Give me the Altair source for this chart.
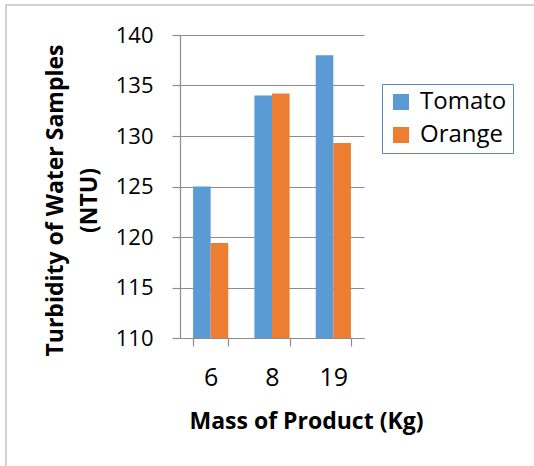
import altair as alt
import pandas as pd

# Mass of product (kg) and measured turbidity (NTU) for each sample series
masses = ["6", "8", "19"]
tomato = [125.0, 134.0, 138.0]
orange = [119.4, 134.2, 129.3]
series_names = ["Tomato", "Orange"]
y_ticks = [110, 115, 120, 125, 130, 135, 140]

rows = []
for name, vals in zip(series_names, [tomato, orange]):
    for m, v in zip(masses, vals):
        rows.append({"mass": m, "series": name, "value": v})
df = pd.DataFrame(rows)

FONT = "Open Sans"
GRID = "#8C8C8C"

bars = alt.Chart(df).mark_bar().encode(
    x=alt.X(
        "mass:N",
        sort=masses,
        scale=alt.Scale(paddingInner=0.426, paddingOuter=0.213),
        axis=alt.Axis(
            title="Mass of Product (Kg)",
            labelAngle=0,
            labelFontSize=25,
            tickBand="extent",
            tickSize=8,
            labelPadding=19,
            titleX=126,
            titleY=83,
            titleBaseline="middle",
            titleAlign="center",
        ),
    ),
    xOffset=alt.XOffset("series:N", sort=series_names, scale=alt.Scale(paddingInner=0, paddingOuter=0)),
    y=alt.Y(
        "value:Q",
        scale=alt.Scale(domain=[110, 140], zero=False, nice=False),
        axis=alt.Axis(
            title=["Turbidity of Water Samples", "(NTU)"],
            values=y_ticks,
            labelFontSize=22,
            tickSize=8,
            labelPadding=19,
            grid=True,
            titleAngle=-90,
            titleAlign="center",
            titleBaseline="top",
            titleX=-136,
            titleY=165,
            titleLineHeight=34,
        ),
    ),
    y2=alt.datum(110),
    color=alt.Color(
        "series:N",
        sort=series_names,
        scale=alt.Scale(domain=series_names, range=["#5B9BD5", "#ED7D31"]),
        legend=alt.Legend(
            title=None,
            orient="none",
            legendX=202,
            legendY=49,
            symbolType="square",
            symbolSize=256,
            symbolStrokeWidth=0,
            symbolOffset=1,
            labelOffset=7,
            labelFontSize=24,
            labelFont=FONT,
            labelColor="#000000",
            rowPadding=9,
            padding=6,
            strokeColor="#5B84C8",
            fillColor="white",
        ),
    ),
)

# Light frame around the whole chart area
frame = alt.Chart(alt.Data(values=[{"k": 0}])).mark_rect(
    fill=None, stroke="#C4C4C4", strokeWidth=1.5, clip=False
).encode(
    x=alt.value(-174),
    x2=alt.value(364),
    y=alt.value(-30),
    y2=alt.value(445),
)

chart = (
    alt.layer(frame, bars)
    .properties(
        width=184,
        height=303,
        autosize=alt.AutoSizeParams(type="none"),
        padding={"left": 180, "top": 35, "right": 170, "bottom": 128},
        background="white",
    )
    .configure_view(stroke=None)
    .configure_axis(
        labelFont=FONT,
        labelColor="#000000",
        titleFont=FONT,
        titleFontSize=23,
        titleFontWeight="bold",
        titleColor="#000000",
        domainColor=GRID,
        domainWidth=1.2,
        tickColor=GRID,
        tickWidth=1.2,
        gridColor=GRID,
        gridWidth=1,
    )
    .configure_axisX(grid=False)
)

chart.save("out.html", embed_options={"renderer": "svg", "actions": False})
